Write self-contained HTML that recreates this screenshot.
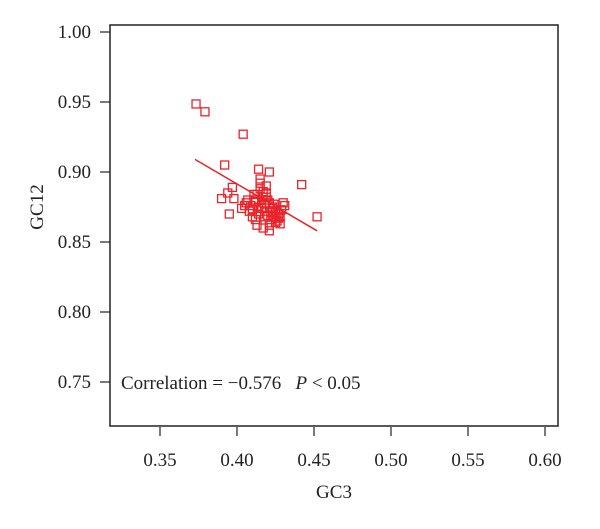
<!DOCTYPE html>
<html><head><meta charset="utf-8"><style>
body{margin:0;background:#fff;}
svg text{font-family:"Liberation Serif",serif;fill:#222;}
</style></head><body>
<svg width="600" height="524">
<g id="chart"></g>
</svg>
<script>
const gc3 = [0.3734,0.3792,0.404,0.392,0.414,0.421,0.442,0.452,0.397,0.394,0.390,0.398,0.395,0.403,0.406,0.409,0.411,0.413,0.415,0.417,0.419,0.421,0.423,0.425,0.427,0.429,0.431,0.408,0.410,0.412,0.414,0.416,0.418,0.420,0.422,0.424,0.426,0.428,0.430,0.407,0.411,0.415,0.419,0.423,0.427,0.413,0.417,0.421,0.425,0.416,0.418,0.420,0.414,0.412,0.422,0.424,0.419,0.417,0.426,0.410,0.415,0.421,0.428,0.405,0.418];
const gc12 = [0.9486,0.943,0.927,0.905,0.902,0.900,0.891,0.868,0.889,0.885,0.881,0.881,0.870,0.874,0.878,0.876,0.880,0.884,0.888,0.886,0.882,0.878,0.875,0.872,0.870,0.873,0.876,0.872,0.868,0.866,0.870,0.874,0.877,0.880,0.871,0.868,0.865,0.863,0.878,0.880,0.884,0.892,0.890,0.874,0.867,0.862,0.860,0.858,0.864,0.878,0.872,0.869,0.875,0.879,0.866,0.877,0.885,0.882,0.871,0.873,0.895,0.862,0.868,0.876,0.868];
const xTicks = [0.35,0.40,0.45,0.50,0.55,0.60];
const yTicks = [0.75,0.80,0.85,0.90,0.95,1.00];
const fitX = [0.3727,0.452];
const fitY = [0.909,0.858];
const X = v => 160 + (v - 0.35) * 1540;
const Y = v => 32 + (1 - v) * 1400;
const NS = "http://www.w3.org/2000/svg";
const g = document.getElementById('chart');
function mk(tag, attrs){const e=document.createElementNS(NS,tag);for(const k in attrs)e.setAttribute(k,attrs[k]);g.appendChild(e);return e;}
const box = mk('rect',{x:110,y:25,width:448,height:401,fill:'none',stroke:'#222','stroke-width':1.5});


xTicks.forEach(t=>{
  const l=mk('line',{x1:X(t),x2:X(t),y1:427,y2:436,stroke:'#222','stroke-width':1.2});
  
  
  const tx=mk('text',{x:X(t),y:466,'text-anchor':'middle','font-size':19});
  tx.textContent=t.toFixed(2);
  
  
});
yTicks.forEach(t=>{
  const l=mk('line',{x1:100,x2:110,y1:Y(t),y2:Y(t),stroke:'#222','stroke-width':1.2});
  
  
  const tx=mk('text',{x:91,y:Y(t)+6,'text-anchor':'end','font-size':19});
  tx.textContent=t.toFixed(2);
  
  
});
gc3.forEach((v,i)=>{
  const r=mk('rect',{x:X(v)-4,y:Y(gc12[i])-4,width:8,height:8,fill:'none',stroke:'#e8232a','stroke-width':1.3});
  
  
});
const fl=mk('line',{x1:X(fitX[0]),y1:Y(fitY[0]),x2:X(fitX[1]),y2:Y(fitY[1]),stroke:'#e8232a','stroke-width':1.5});


const xt=mk('text',{x:334,y:498,'text-anchor':'middle','font-size':19});
xt.textContent='GC3';


const yt=mk('text',{x:0,y:0,'text-anchor':'middle','font-size':19,transform:'translate(43,207) rotate(-90)'});
yt.textContent='GC12';


const an=mk('text',{x:121,y:389,'font-size':19});
an.innerHTML='Correlation = \u22120.576 &#160;&#160;<tspan font-style="italic">P</tspan> &lt; 0.05';


</script>
</body></html>
